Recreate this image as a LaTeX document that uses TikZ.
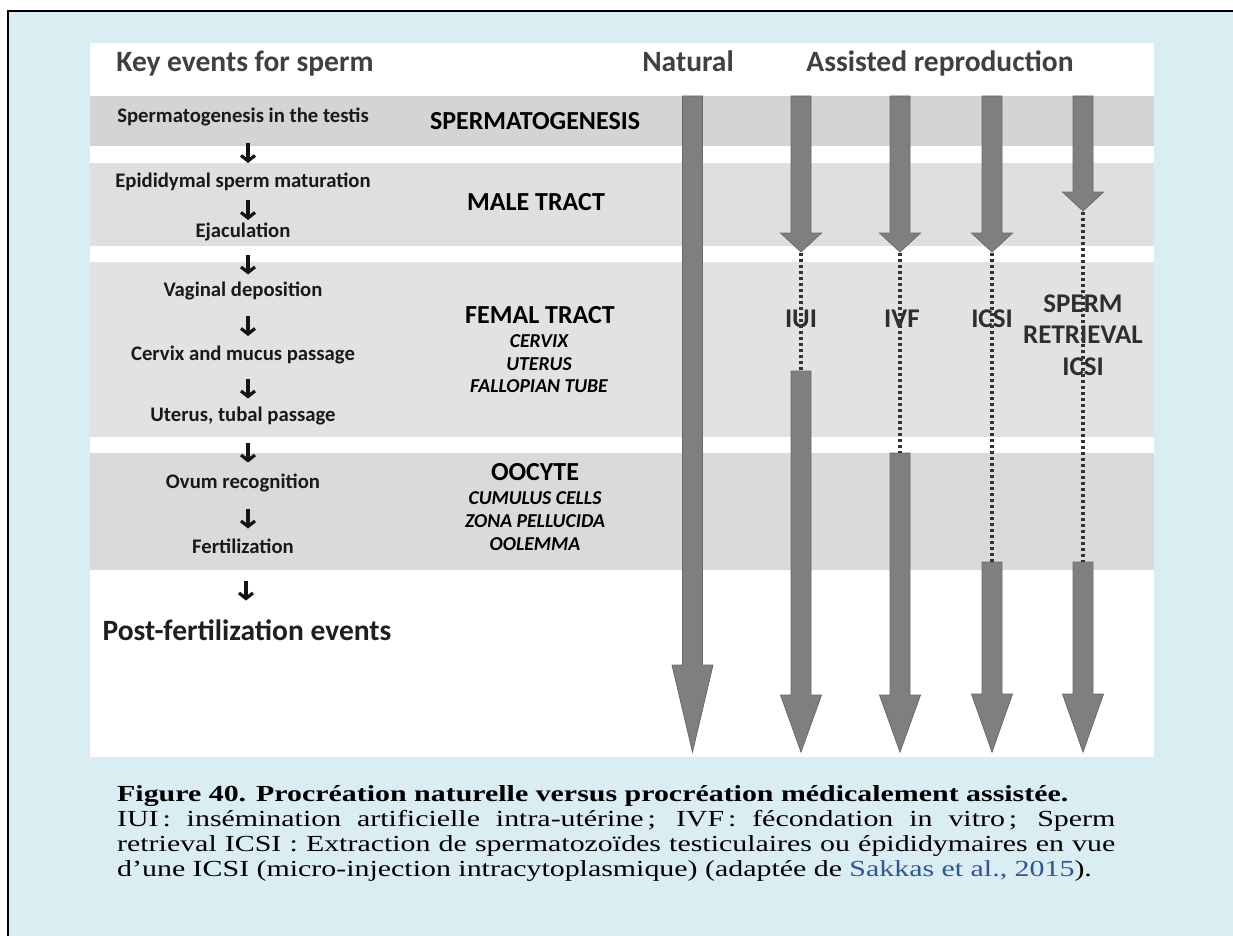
\documentclass[tikz,border=0pt]{standalone}
\usepackage{fontspec}
\usetikzlibrary{arrows.meta,calc}
\newfontfamily\calib{Carlito}
\newfontfamily\capfont[FakeStretch=1.30]{Liberation Serif}
\definecolor{bgblue}{HTML}{DAEDF3}
\definecolor{bandA}{HTML}{D4D4D4}
\definecolor{bandB}{HTML}{DFDFDF}
\definecolor{bandC}{HTML}{E2E2E2}
\definecolor{bandD}{HTML}{DADADA}
\definecolor{arrowfill}{HTML}{7F7F7F}
\definecolor{arrowline}{HTML}{6A6A6A}
\definecolor{headgrey}{HTML}{404040}
\definecolor{labgrey}{HTML}{2E2E2E}
\definecolor{citeblue}{HTML}{2F5597}
\newcommand{\gaArrow}[4]{%
  \filldraw[garr] ({#1-10},#2) -- ({#1+10},#2) -- ({#1+10},#3) -- ({#1+20.5},#3)
    -- (#1,#4) -- ({#1-20.5},#3) -- ({#1-10},#3) -- cycle;}
\begin{document}
\begin{tikzpicture}[x=1pt,y=-1pt,
  hdr/.style={font=\calib\bfseries\fontsize{29.5}{33}\selectfont, text=headgrey, inner sep=0pt, anchor=base},
  ev/.style={font=\calib\bfseries\fontsize{20.7}{24}\selectfont, text=black!90, inner sep=0pt, anchor=base},
  post/.style={font=\calib\bfseries\fontsize{29.5}{33}\selectfont, text=black!88, inner sep=0pt, anchor=base},
  zone/.style={font=\calib\bfseries\fontsize{26}{30}\selectfont, text=black, inner sep=0pt, anchor=base},
  sub/.style={font=\calib\bfseries\itshape\fontsize{19.7}{22}\selectfont, text=black, inner sep=0pt, anchor=base},
  lab/.style={font=\calib\bfseries\fontsize{27}{32}\selectfont, text=labgrey, inner sep=0pt, anchor=base},
  captxt/.style={font=\capfont\fontsize{23}{25}\selectfont, text=black, inner sep=0pt, anchor=base west},
  evarr/.style={line width=3.2pt, draw=black!92, -{Straight Barb[length=5.5pt,width=14pt]}},
  garr/.style={fill=arrowfill, draw=arrowline, line width=0.8pt, line join=miter},
  dots/.style={draw=black!80, line width=3.2pt, dash pattern=on 3pt off 3pt}
]
\useasboundingbox (0,0) rectangle (1233,936);
% page and frame
\fill[white] (0,0) rectangle (1233,936);
\fill[bgblue] (8,11) rectangle (1233,936);
\draw[line width=2pt] (8,936) -- (8,11) -- (1233,11);
% white panel and bands
\fill[white] (90,43) rectangle (1154,757);
\fill[bandA] (90,96) rectangle (1154,146);
\fill[bandB] (90,163) rectangle (1154,246);
\fill[bandC] (90,262) rectangle (1154,437);
\fill[bandD] (90,453) rectangle (1154,570);

% headers
\node[hdr] (hKey) at (245,72) {Key events for sperm};
\node[hdr] (hNat) at (688,72) {Natural};
\node[hdr] (hAss) at (940,72) {Assisted reproduction};

% key events column
\node[ev] (e1) at (243,123) {Spermatogenesis in the testis};
\node[ev] (e2) at (243,187) {Epididymal sperm maturation};
\node[ev] (e3) at (243,237) {Ejaculation};
\node[ev] (e4) at (243,296) {Vaginal deposition};
\node[ev] (e5) at (243,360) {Cervix and mucus passage};
\node[ev] (e6) at (243,421) {Uterus, tubal passage};
\node[ev] (e7) at (243,488) {Ovum recognition};
\node[ev] (e8) at (243,553) {Fertilization};
\node[post] (e9) at (247,640) {Post-fertilization events};

\draw[evarr] ($(e1.base)!.5!(e2.base)+(5,-12)$) -- ($(e1.base)!.5!(e2.base)+(5,8)$);
\draw[evarr] ($(e2.base)!.5!(e3.base)+(5,-12)$) -- ($(e2.base)!.5!(e3.base)+(5,8)$);
\draw[evarr] ($(e3.base)!.5!(e4.base)+(5,-12)$) -- ($(e3.base)!.5!(e4.base)+(5,8)$);
\draw[evarr] ($(e4.base)!.5!(e5.base)+(5,-12)$) -- ($(e4.base)!.5!(e5.base)+(5,8)$);
\draw[evarr] ($(e5.base)!.5!(e6.base)+(5,-12)$) -- ($(e5.base)!.5!(e6.base)+(5,8)$);
\draw[evarr] ($(e6.base)!.5!(e7.base)+(5,-12)$) -- ($(e6.base)!.5!(e7.base)+(5,8)$);
\draw[evarr] ($(e7.base)!.5!(e8.base)+(5,-12)$) -- ($(e7.base)!.5!(e8.base)+(5,8)$);
\draw[evarr] ($(e8.base)!.5!(e9.base)+(1,-16)$) -- ($(e8.base)!.5!(e9.base)+(1,4)$);

% zones column
\node[zone] (z1) at (535,130) {SPERMATOGENESIS};
\node[zone] (z2) at (536,210) {MALE TRACT};
\node[zone] (z3) at (540,323) {FEMAL TRACT};
\node[sub] (z3a) at (539,347) {CERVIX};
\node[sub] (z3b) at (539,370) {UTERUS};
\node[sub] (z3c) at (539,392) {FALLOPIAN TUBE};
\node[zone] (z4) at (535,480) {OOCYTE};
\node[sub] (z4a) at (535,504) {CUMULUS CELLS};
\node[sub] (z4b) at (535,527) {ZONA PELLUCIDA};
\node[sub] (z4c) at (535,550) {OOLEMMA};

% big grey arrows
\gaArrow{692.5}{96}{665}{752}
\gaArrow{801}{96}{233}{252}
\gaArrow{900}{96}{233}{252}
\gaArrow{992}{96}{233}{252}
\gaArrow{1083}{96}{192}{211}
\gaArrow{801}{371}{695}{752}
\gaArrow{900}{453}{695}{752}
\gaArrow{992}{562}{694}{752}
\gaArrow{1083}{562}{694}{752}

% technique labels
\node[lab] (lIUI) at (801,327) {IUI};
\node[lab] (lIVF) at (902,327) {IVF};
\node[lab] (lICSI) at (992,327) {ICSI};
\node[lab] (lSR1) at (1083,312) {SPERM};
\node[lab] (lSR2) at (1083,343) {RETRIEVAL};
\node[lab] (lSR3) at (1083,375) {ICSI};

% dotted links
\coordinate (iuiT) at (801,253);  \coordinate (iuiB) at (801,371);
\coordinate (ivfT) at (900,253);  \coordinate (ivfB) at (900,453);
\coordinate (icsiT) at (992,253); \coordinate (icsiB) at (992,562);
\coordinate (srT) at (1083,212);  \coordinate (srB) at (1083,562);
\draw[dots] (iuiT) -- (iuiB);
\draw[dots] (ivfT) -- (ivfB);
\draw[dots] (icsiT) -- (icsiB);
\draw[dots] (srT) -- (srB);

% caption
\node[captxt] (c1) at (117,801) {\bfseries Figure 40. Procréation naturelle versus procréation médicalement assistée.};
\node[captxt] (c2) at (117,826) {\makebox[998pt][s]{IUI\,: insémination artificielle intra-utérine\,; IVF\,: fécondation in vitro\,; Sperm}};
\node[captxt] (c3) at (117,851) {\makebox[998pt][s]{retrieval ICSI : Extraction de spermatozoïdes testiculaires ou épididymaires en vue}};
\node[captxt] (c4) at (117,876) {d’une ICSI (micro-injection intracytoplasmique) (adaptée de \textcolor{citeblue}{Sakkas et al., 2015}).};
\end{tikzpicture}
\end{document}
